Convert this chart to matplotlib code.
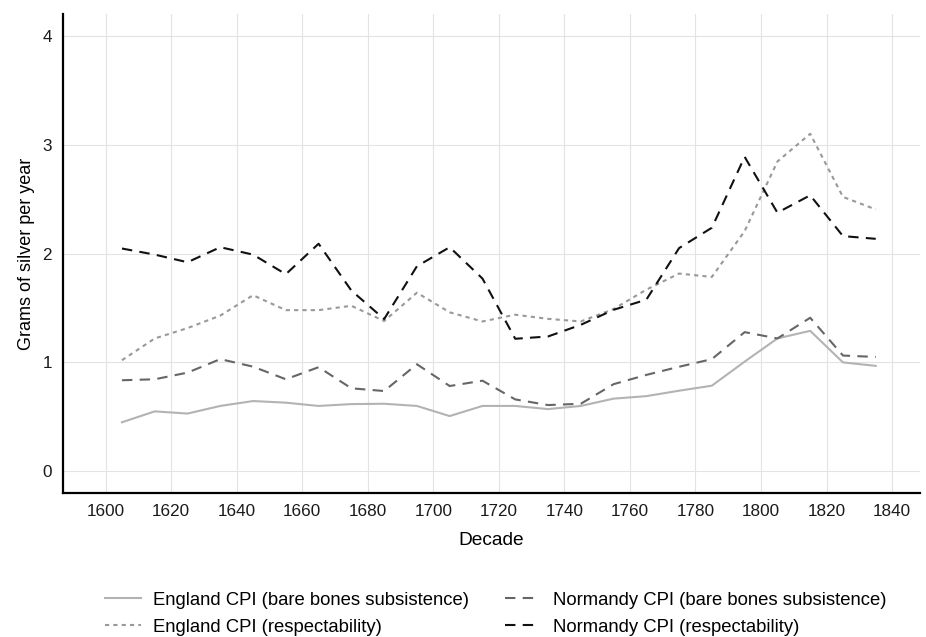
import matplotlib.pyplot as plt
import numpy as np

plt.rcParams['font.family'] = ['Liberation Sans', 'DejaVu Sans']

decades = np.arange(1605, 1845, 10)

england_bare = [0.45, 0.55, 0.53, 0.60, 0.645, 0.63, 0.60, 0.617, 0.62, 0.60, 0.507, 0.60,
                0.60, 0.571, 0.60, 0.667, 0.69, 0.74, 0.786, 1.007, 1.22, 1.29, 1.00, 0.968]
england_resp = [1.02, 1.22, 1.315, 1.43, 1.617, 1.48, 1.48, 1.52, 1.38, 1.64, 1.46, 1.376,
                1.438, 1.40, 1.376, 1.49, 1.668, 1.816, 1.785, 2.206, 2.845, 3.10, 2.52, 2.405]
normandy_bare = [0.836, 0.845, 0.906, 1.03, 0.961, 0.845, 0.956, 0.762, 0.737, 0.983, 0.783, 0.832,
                 0.66, 0.608, 0.62, 0.80, 0.885, 0.96, 1.03, 1.278, 1.22, 1.41, 1.063, 1.05]
normandy_resp = [2.046, 1.99, 1.92, 2.058, 1.99, 1.81, 2.09, 1.66, 1.398, 1.883, 2.058, 1.77,
                 1.217, 1.238, 1.345, 1.483, 1.576, 2.05, 2.237, 2.888, 2.375, 2.535, 2.16, 2.135]

fig = plt.figure(figsize=(9.26, 6.37), dpi=100)
ax = fig.add_axes([0.068, 0.226, 0.9255, 0.752])

ax.plot(decades, england_bare, color='#b3b3b3', lw=1.5, ls='-',
        label='England CPI (bare bones subsistence)')
ax.plot(decades, normandy_bare, color='#666666', lw=1.5, ls=(0, (5, 3.5)),
        label='Normandy CPI (bare bones subsistence)')
ax.plot(decades, england_resp, color='#999999', lw=1.5, ls=(0, (2, 2)),
        label='England CPI (respectability)')
ax.plot(decades, normandy_resp, color='#111111', lw=1.5, ls=(0, (5, 3.5)),
        label='Normandy CPI (respectability)')

ax.set_xlim(1587, 1848.5)
ax.set_ylim(-0.2, 4.2)
ax.set_xticks(np.arange(1600, 1841, 20))
ax.set_yticks([0, 1, 2, 3, 4])
ax.grid(True, color='#e3e3e3', lw=0.8)
ax.set_axisbelow(True)
for s in ['top', 'right']:
    ax.spines[s].set_visible(False)
for s in ['left', 'bottom']:
    ax.spines[s].set_linewidth(1.6)
    ax.spines[s].set_color('black')
ax.tick_params(length=0, labelsize=12.3, colors='#1a1a1a', pad=8)
ax.set_xlabel('Decade', fontsize=13.8, labelpad=9)
ax.set_ylabel('Grams of silver per year', fontsize=13, labelpad=5)

handles, labels = ax.get_legend_handles_labels()
order = [0, 2, 1, 3]
ax.legend([handles[i] for i in order], [labels[i] for i in order],
          loc='upper center', bbox_to_anchor=(0.505, -0.171), ncol=2, frameon=False,
          fontsize=13.3, handlelength=1.9, handletextpad=0.7, columnspacing=1.9,
          labelspacing=0.55)

fig.savefig('out.png', dpi=100)
